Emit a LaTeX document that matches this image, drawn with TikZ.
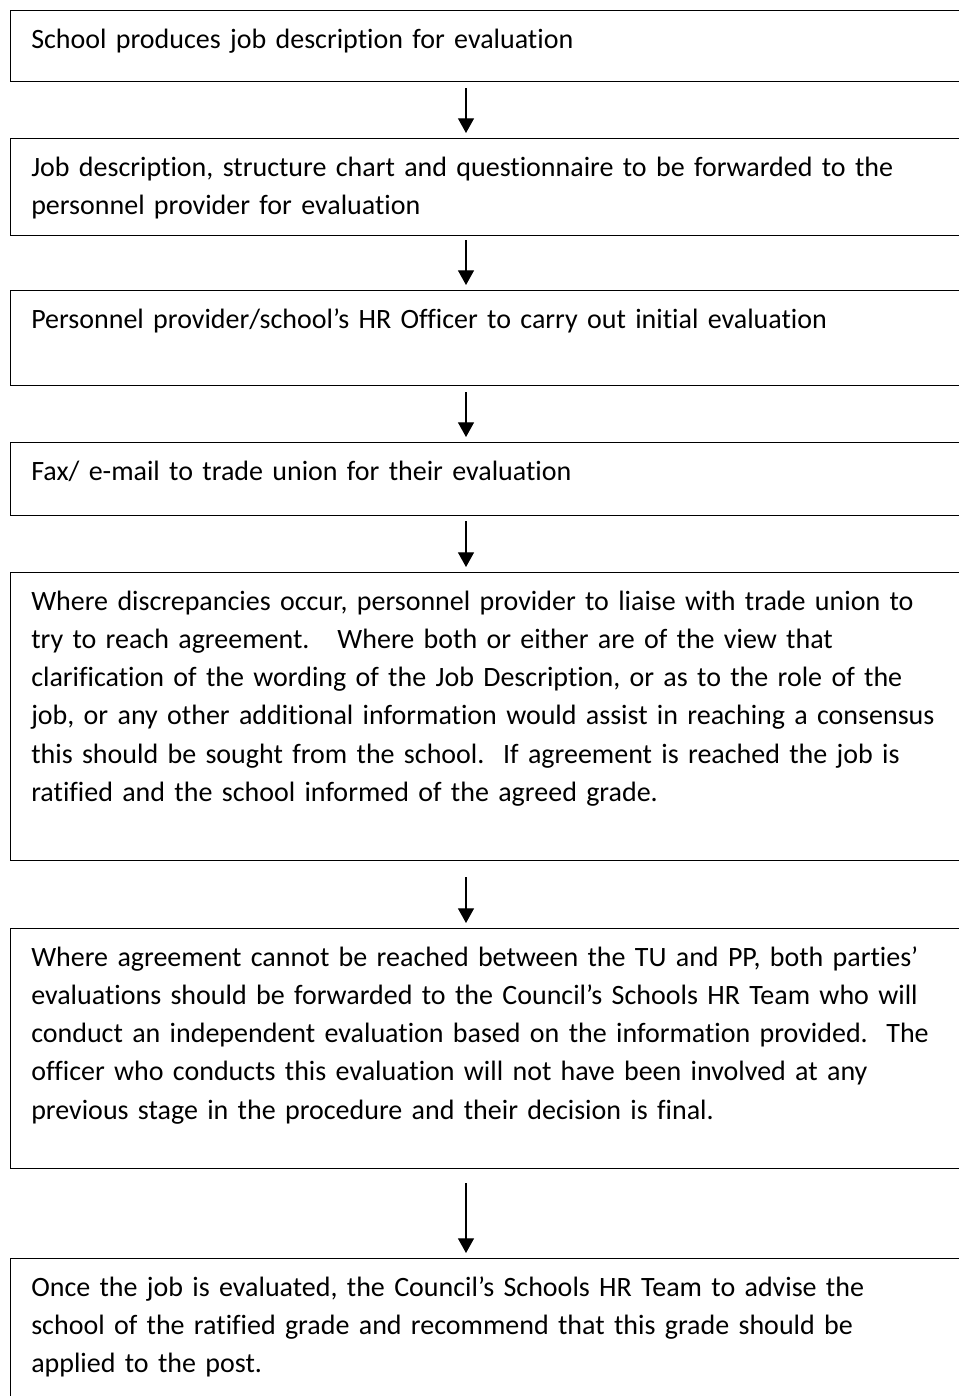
\documentclass[tikz,border=0pt]{standalone}
\usepackage{fontspec}
\setmainfont{Carlito}[Ligatures=NoCommon]
\usetikzlibrary{arrows.meta}

\begin{document}
\begin{tikzpicture}[x=0.75pt,y=-0.75pt,
	box/.style={draw,line width=0.9pt,anchor=north west,inner sep=0pt,minimum width=714pt},
	txt/.style={anchor=base west,inner sep=0pt,text width=720pt,align=left,font=\fontsize{21}{28.7}\selectfont},
	flow/.style={line width=0.9pt,-{Triangle[width=12pt,length=11pt]},shorten >=3.75pt}]
	\useasboundingbox (0,0) rectangle (959,1396);
	\clip (0,0) rectangle (959,1396);

	%boxes
	\node[box,minimum height=53.25pt](b1) at (10,10) {};
	\node[box,minimum height=72.75pt](b2) at (10,138) {};
	\node[box,minimum height=71.25pt](b3) at (10,290) {};
	\node[box,minimum height=54.75pt](b4) at (10,442) {};
	\node[box,minimum height=216pt,minimum width=711.4pt](b5) at (10,572) {};
	\node[box,minimum height=180pt,minimum width=711.4pt](b6) at (10,928) {};
	\node[box,minimum height=110pt](b7) at (10,1258) {};

	\coordinate (ax) at (466,0);

	%text
	\node[txt](t1) at ([xshift=15.75pt,yshift=-28.5pt]b1.north west)
	{School produces job description for evaluation};
	\node[txt](t2) at ([xshift=15.75pt,yshift=-28.5pt]b2.north west)
	{Job description, structure chart and questionnaire to be forwarded to the\\
	 personnel provider for evaluation};
	\node[txt](t3) at ([xshift=15.75pt,yshift=-28.5pt]b3.north west)
	{Personnel provider/school’s HR Officer to carry out initial evaluation};
	\node[txt](t4) at ([xshift=15.75pt,yshift=-28.5pt]b4.north west)
	{Fax/ e-mail to trade union for their evaluation};
	\node[txt](t5) at ([xshift=15.75pt,yshift=-28.5pt]b5.north west)
	{Where discrepancies occur, personnel provider to liaise with trade union to\\
	 try to reach agreement.\ \ \ Where both or either are of the view that\\
	 clarification of the wording of the Job Description, or as to the role of the\\
	 job, or any other additional information would assist in reaching a consensus\\
	 this should be sought from the school.\ \ If agreement is reached the job is\\
	 ratified and the school informed of the agreed grade.};
	\node[txt](t6) at ([xshift=15.75pt,yshift=-28.5pt]b6.north west)
	{Where agreement cannot be reached between the TU and PP, both parties’\\
	 evaluations should be forwarded to the Council’s Schools HR Team who will\\
	 conduct an independent evaluation based on the information provided.\ \ The\\
	 officer who conducts this evaluation will not have been involved at any\\
	 previous stage in the procedure and their decision is final.};
	\node[txt](t7) at ([xshift=15.75pt,yshift=-28.5pt]b7.north west)
	{Once the job is evaluated, the Council’s Schools HR Team to advise the\\
	 school of the ratified grade and recommend that this grade should be\\
	 applied to the post.};

	%arrows
	\draw[flow,shorten <=4.5pt] (b1.south -| ax) -- (b2.north -| ax);
	\draw[flow,shorten <=3pt] (b2.south -| ax) -- (b3.north -| ax);
	\draw[flow,shorten <=4.5pt] (b3.south -| ax) -- (b4.north -| ax);
	\draw[flow,shorten <=3.75pt] (b4.south -| ax) -- (b5.north -| ax);
	\draw[flow,shorten <=12pt] (b5.south -| ax) -- (b6.north -| ax);
	\draw[flow,shorten <=10.5pt] (b6.south -| ax) -- (b7.north -| ax);

\end{tikzpicture}
\end{document}
